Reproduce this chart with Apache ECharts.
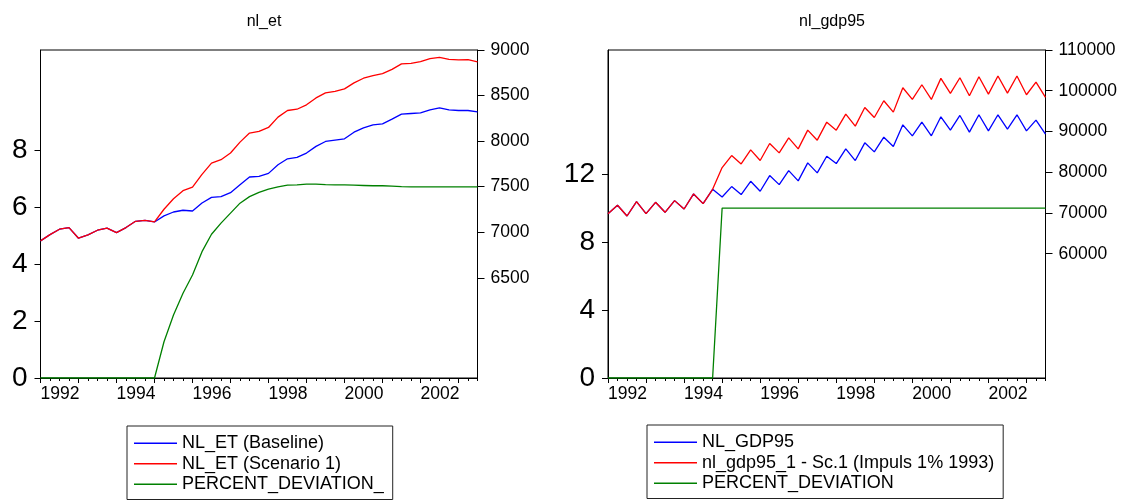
<!DOCTYPE html>
<html>
<head>
<meta charset="utf-8">
<script src="https://cdn.jsdelivr.net/npm/echarts@6/dist/echarts.min.js"></script>
<style>html,body{margin:0;padding:0;background:#fff}#c{width:1125px;height:500px}</style>
</head>
<body>
<div id="c"></div>
<script>
// Quarterly categories 1992Q1 .. 2003Q3
const quarters = [];
for (let y = 1992; y <= 2003; y++) for (let q = 1; q <= 4; q++) quarters.push(y + 'Q' + q);
quarters.length = 47;

const titles = ['nl_et', 'nl_gdp95'];

// Panel 1: nl_et
const etBaseline = [6905,6974,7033,7051,6934,6971,7022,7044,6996,7051,7120,7131,7113,7179,7222,7241,7233,7321,7383,7390,7434,7522,7606,7613,7646,7741,7806,7821,7869,7942,7996,8011,8025,8098,8146,8179,8190,8241,8296,8303,8310,8343,8365,8343,8336,8336,8321];
const etScenario = [6905,6974,7033,7051,6934,6971,7022,7044,6996,7051,7120,7131,7113,7252,7368,7456,7496,7635,7759,7796,7869,7989,8088,8106,8150,8263,8336,8350,8398,8474,8529,8547,8573,8639,8690,8719,8741,8788,8847,8854,8872,8905,8920,8898,8891,8894,8869];
const etDeviation = [0,0,0,0,0,0,0,0,0,0,0,0,0,1.27,2.21,2.97,3.61,4.43,5.04,5.43,5.78,6.13,6.36,6.51,6.62,6.70,6.76,6.77,6.80,6.80,6.78,6.77,6.77,6.76,6.75,6.74,6.74,6.73,6.71,6.70,6.70,6.70,6.70,6.70,6.70,6.70,6.70];

// Panel 2: nl_gdp95
const gdpBaseline = [69835,71884,69261,72786,69835,72622,70163,73032,70983,74671,72294,75819,73934,76475,74507,77786,75327,79180,76966,80409,77868,82294,79835,83934,82131,85737,82868,87213,84999,88606,86311,91639,88934,92295,88934,93606,90328,93934,89836,94098,90164,94098,90573,94098,90164,92787,89344];
const gdpScenario = [69835,71884,69261,72786,69835,72622,70163,73032,70983,74671,72294,75819,81147,84098,82049,85491,82868,87049,84754,88442,85737,90328,87868,92295,90328,94262,91311,95902,93442,97541,94754,100738,97869,101475,97869,103033,99344,103197,98770,103443,99180,103607,99426,103607,99016,102131,98361];
const gdpDeviation = [0,0,0,0,0,0,0,0,0,0,0,0,10.0,10.0,10.0,10.0,10.0,10.0,10.0,10.0,10.0,10.0,10.0,10.0,10.0,10.0,10.0,10.0,10.0,10.0,10.0,10.0,10.0,10.0,10.0,10.0,10.0,10.0,10.0,10.0,10.0,10.0,10.0,10.0,10.0,10.0,10.0];

const leftTicks1 = [0,2,4,6,8];
const rightTicks1 = [6500,7000,7500,8000,8500,9000];
const leftTicks2 = [0,4,8,12];
const rightTicks2 = [60000,70000,80000,90000,100000,110000];

const names1 = ['NL_ET (Baseline)','NL_ET (Scenario 1)','PERCENT_DEVIATION_'];
const names2 = ['NL_GDP95','nl_gdp95_1 - Sc.1 (Impuls 1% 1993)','PERCENT_DEVIATION'];

const FONT = '"Liberation Sans", Arial, sans-serif';
const BLUE = '#0000ff', RED = '#ff0000', GREEN = '#008000';

function xAxes(gi) {
  return [
    { type:'category', gridIndex:gi, data:quarters, boundaryGap:false, position:'bottom',
      axisLine:{show:true, lineStyle:{color:'#000', width:1}},
      axisTick:{show:true, length:5, interval:(i)=> i%4===0, lineStyle:{color:'#000'}},
      axisLabel:{show:true, interval:(i)=> i%8===0, formatter:(v)=>v.slice(0,4), align:'left',
        color:'#000', fontSize:17.5, fontFamily:FONT, margin:7},
      splitLine:{show:false} },
    { type:'category', gridIndex:gi, data:quarters, boundaryGap:false, position:'bottom',
      axisLine:{show:false}, axisLabel:{show:false},
      axisTick:{show:true, length:3, interval:0, lineStyle:{color:'#000'}},
      splitLine:{show:false} }
  ];
}
const plain = (v) => String(v);
function yAxes(gi, lmin, lmax, lticks, rmin, rmax, rticks) {
  return [
    { type:'value', gridIndex:gi, position:'left', min:lmin, max:lmax,
      axisLine:{show:true, lineStyle:{color:'#000'}},
      axisTick:{show:true, length:6, customValues:lticks, lineStyle:{color:'#000'}},
      axisLabel:{show:true, customValues:lticks, formatter:plain, color:'#000', fontSize:28, fontFamily:FONT, margin:13},
      splitLine:{show:false} },
    { type:'value', gridIndex:gi, position:'right', min:rmin, max:rmax,
      axisLine:{show:true, lineStyle:{color:'#000'}},
      axisTick:{show:true, length:7, customValues:rticks, lineStyle:{color:'#000'}},
      axisLabel:{show:true, customValues:rticks, formatter:plain, color:'#000', fontSize:17.5, fontFamily:FONT, margin:13},
      splitLine:{show:false} }
  ];
}
function line(name, data, xi, yi, color) {
  return { type:'line', name, data, xAxisIndex:xi, yAxisIndex:yi, symbol:'none', showSymbol:false,
    lineStyle:{color, width:1.3}, itemStyle:{color}, animation:false, z:yi===0?2:3 };
}
function legend(left, top, names) {
  return { orient:'vertical', left, top, data:names, icon:'rect', itemWidth:43, itemHeight:1.5, itemGap:0,
    borderColor:'#222', borderWidth:1, padding:[7,9,5,7], backgroundColor:'#fff',
    textStyle:{color:'#000', fontSize:18, fontFamily:FONT, lineHeight:20.5}, selectedMode:false };
}

const chart = echarts.init(document.getElementById('c'), null, {renderer:'canvas'});
chart.setOption({
  animation:false,
  backgroundColor:'#fff',
  title:[
    { text:titles[0], left:259, top:9, textAlign:'center', textStyle:{fontSize:16, fontWeight:'normal', color:'#000', fontFamily:FONT} },
    { text:titles[1], left:827, top:9, textAlign:'center', textStyle:{fontSize:16, fontWeight:'normal', color:'#000', fontFamily:FONT} }
  ],
  grid:[
    { left:40.5, top:50, width:437, height:328, show:true, borderColor:'#000', borderWidth:1, backgroundColor:'transparent' },
    { left:608, top:50, width:437.5, height:328, show:true, borderColor:'#000', borderWidth:1, backgroundColor:'transparent' }
  ],
  xAxis:[...xAxes(0), ...xAxes(1)],
  yAxis:[...yAxes(0, 0, 11.5, leftTicks1, 5400, 9000, rightTicks1),
         ...yAxes(1, 0, 19.3, leftTicks2, 29500, 110000, rightTicks2)],
  legend:[ legend(127, 426, names1), legend(647, 425, names2) ],
  series:[
    line(names1[0], etBaseline, 0, 1, BLUE),
    line(names1[1], etScenario, 0, 1, RED),
    line(names1[2], etDeviation, 0, 0, GREEN),
    line(names2[0], gdpBaseline, 2, 3, BLUE),
    line(names2[1], gdpScenario, 2, 3, RED),
    line(names2[2], gdpDeviation, 2, 2, GREEN)
  ]
});
</script>
</body>
</html>
